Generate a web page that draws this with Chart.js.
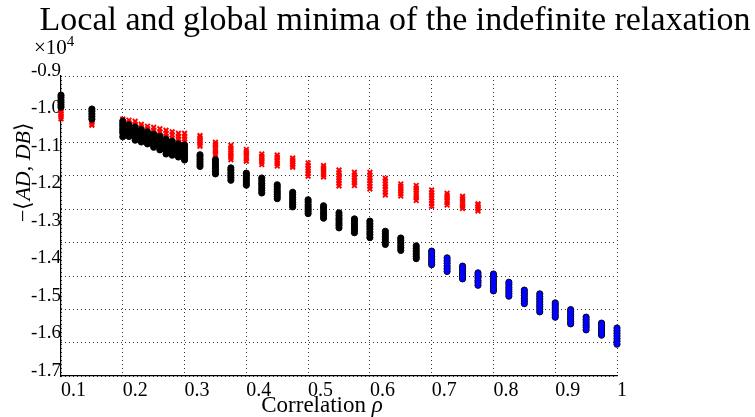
<!DOCTYPE html>
<html><head><meta charset="utf-8">
<script src="https://cdn.jsdelivr.net/npm/chart.js@4.4.1/dist/chart.umd.min.js"></script>
<style>html,body{margin:0;padding:0;background:#fff;}canvas{display:block;}</style>
</head><body>
<canvas id="c" width="755" height="417"></canvas>
<script>
const titleText = 'Local and global minima of the indefinite relaxation';
const xTicks = [0.1,0.2,0.3,0.4,0.5,0.6,0.7,0.8,0.9,1.0];
const xTickLabels = ['0.1','0.2','0.3','0.4','0.5','0.6','0.7','0.8','0.9','1'];
const yTicks = [-0.9,-1.0,-1.1,-1.2,-1.3,-1.4,-1.5,-1.6,-1.7];
const yTickLabels = ['-0.9','-1.0','-1.1','-1.2','-1.3','-1.4','-1.5','-1.6','-1.7'];

// correlation values of the columns of runs
const colX = [0.1,0.15,0.2,0.21,0.22,0.23,0.24,0.25,0.26,0.27,0.28,0.29,0.3,
  0.325,0.35,0.375,0.4,0.425,0.45,0.475,0.5,0.525,0.55,0.575,0.6,0.625,0.65,0.675,
  0.7,0.725,0.75,0.775,0.8,0.825,0.85,0.875,0.9,0.925,0.95,0.975,1.0];

// global minima (black circles), values in units of 1e4
const blackY = [
  [-0.951,-0.957,-0.964,-0.970,-0.977,-0.983],
  [-0.988,-0.994,-1.001,-1.008,-1.015],
  [-1.020,-1.027,-1.033,-1.040,-1.046,-1.052,-1.062],
  [-1.030,-1.036,-1.043,-1.049,-1.055,-1.061],
  [-1.036,-1.043,-1.050,-1.057,-1.064,-1.071],
  [-1.043,-1.049,-1.056,-1.063,-1.070,-1.076],
  [-1.049,-1.055,-1.062,-1.068,-1.075,-1.081],
  [-1.055,-1.061,-1.067,-1.073,-1.079,-1.084,-1.090],
  [-1.061,-1.068,-1.075,-1.082,-1.089,-1.097],
  [-1.068,-1.074,-1.081,-1.087,-1.094,-1.100,-1.108],
  [-1.074,-1.081,-1.088,-1.095,-1.102,-1.111],
  [-1.081,-1.088,-1.095,-1.102,-1.109,-1.116],
  [-1.084,-1.091,-1.098,-1.105,-1.111,-1.118,-1.124],
  [-1.110,-1.116,-1.123,-1.129,-1.135,-1.141],
  [-1.123,-1.130,-1.137,-1.143,-1.149,-1.155,-1.161],
  [-1.145,-1.151,-1.158,-1.165,-1.171,-1.178],
  [-1.159,-1.165,-1.172,-1.178,-1.185,-1.191],
  [-1.172,-1.179,-1.186,-1.192,-1.199,-1.205,-1.212],
  [-1.190,-1.196,-1.203,-1.209,-1.215,-1.221,-1.227],
  [-1.210,-1.217,-1.224,-1.230,-1.237,-1.243,-1.249],
  [-1.230,-1.236,-1.243,-1.249,-1.255,-1.261,-1.267],
  [-1.246,-1.252,-1.259,-1.266,-1.272,-1.279],
  [-1.265,-1.272,-1.279,-1.285,-1.292,-1.298,-1.305],
  [-1.281,-1.287,-1.294,-1.300,-1.306,-1.312,-1.318],
  [-1.287,-1.294,-1.301,-1.308,-1.316,-1.323,-1.331],
  [-1.314,-1.321,-1.328,-1.335,-1.342,-1.349],
  [-1.332,-1.338,-1.345,-1.352,-1.358,-1.365],
  [-1.353,-1.360,-1.367,-1.374,-1.381,-1.387],
  [-1.367,-1.374,-1.381,-1.389,-1.396,-1.403],
  [-1.385,-1.392,-1.399,-1.407,-1.414,-1.421],
  [-1.407,-1.414,-1.421,-1.428,-1.434,-1.441],
  [-1.425,-1.431,-1.438,-1.445,-1.451,-1.458],
  [-1.428,-1.435,-1.443,-1.450,-1.458,-1.466,-1.473],
  [-1.450,-1.456,-1.463,-1.469,-1.475,-1.481,-1.487],
  [-1.471,-1.478,-1.485,-1.493,-1.500,-1.507],
  [-1.481,-1.488,-1.495,-1.502,-1.509,-1.515,-1.522,-1.529],
  [-1.505,-1.511,-1.518,-1.524,-1.530,-1.537,-1.543],
  [-1.523,-1.529,-1.536,-1.542,-1.548,-1.555,-1.561],
  [-1.543,-1.550,-1.557,-1.564,-1.570,-1.577],
  [-1.559,-1.565,-1.572,-1.578,-1.585,-1.591],
  [-1.572,-1.579,-1.586,-1.593,-1.600,-1.607,-1.615]
];

// local minima (red crosses), first columns of colX, units of 1e4
const redY = [
  [-0.986,-0.992,-0.998,-1.003,-1.009,-1.014],
  [-1.002,-1.008,-1.014,-1.020,-1.026,-1.031],
  [-1.015,-1.022,-1.029,-1.035,-1.042,-1.049],
  [-1.018,-1.025,-1.032,-1.040,-1.047,-1.054],
  [-1.021,-1.029,-1.036,-1.044,-1.051,-1.059],
  [-1.029,-1.036,-1.043,-1.050,-1.058,-1.065],
  [-1.034,-1.041,-1.048,-1.055,-1.063,-1.070],
  [-1.037,-1.045,-1.052,-1.060,-1.067,-1.075],
  [-1.041,-1.049,-1.057,-1.065,-1.073,-1.081],
  [-1.045,-1.053,-1.061,-1.069,-1.078,-1.086],
  [-1.049,-1.057,-1.066,-1.074,-1.083,-1.091],
  [-1.053,-1.061,-1.068,-1.076,-1.083,-1.091],
  [-1.053,-1.061,-1.068,-1.076,-1.083,-1.091],
  [-1.059,-1.065,-1.071,-1.076,-1.082,-1.087],
  [-1.077,-1.083,-1.090,-1.096,-1.103,-1.109],
  [-1.085,-1.092,-1.098,-1.105,-1.111,-1.117,-1.123],
  [-1.096,-1.102,-1.108,-1.114,-1.121,-1.127],
  [-1.108,-1.114,-1.119,-1.125,-1.130,-1.136],
  [-1.111,-1.117,-1.123,-1.128,-1.134,-1.140],
  [-1.119,-1.124,-1.129,-1.134,-1.138,-1.143],
  [-1.132,-1.139,-1.146,-1.153,-1.160,-1.167],
  [-1.139,-1.145,-1.151,-1.157,-1.163,-1.169],
  [-1.151,-1.158,-1.165,-1.172,-1.179,-1.186,-1.193],
  [-1.157,-1.164,-1.171,-1.178,-1.185,-1.192],
  [-1.157,-1.164,-1.172,-1.179,-1.186,-1.194,-1.201],
  [-1.173,-1.180,-1.188,-1.195,-1.202,-1.210,-1.217],
  [-1.188,-1.194,-1.201,-1.207,-1.214,-1.220],
  [-1.192,-1.199,-1.205,-1.212,-1.219,-1.225,-1.232],
  [-1.204,-1.211,-1.218,-1.225,-1.233,-1.240,-1.247],
  [-1.213,-1.219,-1.225,-1.232,-1.238,-1.244],
  [-1.221,-1.227,-1.234,-1.240,-1.247,-1.253],
  [-1.241,-1.245,-1.250,-1.255,-1.260]
];

// global minima also reached by the relaxation (blue) from this correlation on
const blueFromX = 0.7;

function toPoints(xs, cols) {
  const out = [];
  cols.forEach((col, i) => col.forEach(v => out.push({x: xs[i], y: v})));
  return out;
}
const blackPts = toPoints(colX, blackY);
const redPts = toPoints(colX.slice(0, redY.length), redY);
const bluePts = blackPts.filter(p => p.x >= blueFromX - 1e-9);

const SERIF = '"Liberation Serif", "Times New Roman", serif';

const extraText = {
  id: 'extraText',
  afterDraw(chart) {
    const ctx = chart.ctx;
    ctx.save();
    ctx.fillStyle = '#000';
    ctx.textAlign = 'left';
    ctx.textBaseline = 'alphabetic';
    // exponent of the y axis
    ctx.font = '21px ' + SERIF;
    ctx.fillText('\u00d710', 34, 54);
    const w = ctx.measureText('\u00d710').width;
    ctx.font = '15px ' + SERIF;
    ctx.fillText('4', 34 + w, 46);
    // y axis title
    const parts = [['\u2212\u27e8', 'normal'], ['AD', 'italic'], [', ', 'normal'], ['DB', 'italic'], ['\u27e9', 'normal']];
    let len = 0;
    parts.forEach(p => { ctx.font = p[1] + ' 22px ' + SERIF; len += ctx.measureText(p[0]).width; });
    ctx.save();
    ctx.translate(29.5, 172 + len / 2);
    ctx.rotate(-Math.PI / 2);
    let px = 0;
    parts.forEach(p => { ctx.font = p[1] + ' 22px ' + SERIF; ctx.fillText(p[0], px, 0); px += ctx.measureText(p[0]).width; });
    ctx.restore();
    // x axis title
    const xp = [['Correlation ', 'normal'], ['\u03c1', 'italic']];
    let xl = 0;
    xp.forEach(p => { ctx.font = p[1] + ' 23px ' + SERIF; xl += ctx.measureText(p[0]).width; });
    let sx = 322 - xl / 2;
    xp.forEach(p => { ctx.font = p[1] + ' 23px ' + SERIF; ctx.fillText(p[0], sx, 411.5); sx += ctx.measureText(p[0]).width; });
    ctx.restore();
  }
};

const gridColor = 'rgba(0,0,0,0.8)';

new Chart(document.getElementById('c'), {
  type: 'scatter',
  data: {
    datasets: [
      { label: 'global (blue)', data: bluePts, order: 0, pointStyle: 'circle', pointRadius: 2.7,
        backgroundColor: '#0000ff', borderColor: 'rgba(0,0,0,0)', borderWidth: 0, clip: false },
      { label: 'global', data: blackPts, order: 1, pointStyle: 'circle', pointRadius: 3.1,
        backgroundColor: '#000', borderColor: '#000', borderWidth: 1, clip: false },
      { label: 'local', data: redPts, order: 2, pointStyle: 'crossRot', pointRadius: 3.3,
        backgroundColor: '#ff0000', borderColor: '#ff0000', borderWidth: 1.9, clip: false }
    ]
  },
  options: {
    responsive: false,
    animation: false,
    devicePixelRatio: 1,
    layout: { padding: { left: 21, right: -14, top: 0, bottom: 0 } },
    plugins: {
      legend: { display: false },
      tooltip: { enabled: false },
      title: {
        display: true, text: titleText, align: 'center', color: '#000',
        font: { family: SERIF, size: 34, weight: 'normal', lineHeight: 1 },
        padding: { top: 4, bottom: 38 }
      }
    },
    scales: {
      x: {
        type: 'linear', position: 'bottom', min: 0.1, max: 1.0,
        afterBuildTicks: s => { s.ticks = xTicks.map(v => ({ value: v })); },
        afterFit: s => { s.height = 41; },
        ticks: {
          callback: (v, i) => xTickLabels[i], color: '#000', align: 'start', padding: 3,
          font: { family: SERIF, size: 20 }, maxRotation: 0, autoSkip: false
        },
        grid: { color: gridColor, lineWidth: 1, drawTicks: false },
        border: { display: true, color: '#000', width: 1.2, dash: [1, 3] }
      },
      y: {
        type: 'linear', position: 'left', min: -1.7, max: -0.9, weight: 0,
        afterBuildTicks: s => { s.ticks = yTicks.map(v => ({ value: v })); },
        afterFit: s => { s.width = 40; },
        ticks: {
          // second (empty) line lifts the label a little above its tick
          callback: (v, i) => [yTickLabels[i], ''], color: '#000', padding: 0,
          font: { family: SERIF, size: 19, lineHeight: 0.53 }, autoSkip: false
        },
        grid: { display: false, drawTicks: false },
        border: { display: true, color: '#000', width: 1.2 }
      },
      yg: {
        type: 'linear', position: 'left', min: -1.7, max: -0.9, weight: 1,
        afterBuildTicks: s => {
          const n = 9, t = [];
          for (let i = 0; i <= n; i++) t.push({ value: s.min + (s.max - s.min) * i / n });
          s.ticks = t;
        },
        afterFit: s => { s.width = 0; },
        ticks: { display: false },
        grid: { color: gridColor, lineWidth: 1, drawTicks: false },
        border: { display: false, dash: [1, 3] }
      },
      yr: {
        type: 'linear', position: 'right', min: 0, max: 1,
        afterFit: s => { s.width = 152; },
        ticks: { display: false },
        grid: { display: false, drawTicks: false },
        border: { display: false }
      }
    }
  },
  plugins: [extraText]
});
</script>
</body></html>
